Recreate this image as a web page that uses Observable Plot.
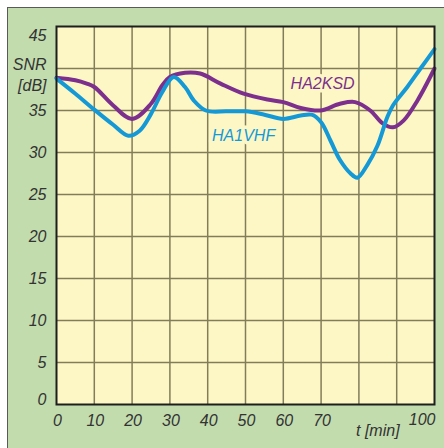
<!DOCTYPE html>
<html>
<head>
<meta charset="utf-8">
<script src="https://cdn.jsdelivr.net/npm/d3@7"></script>
<script src="https://cdn.jsdelivr.net/npm/@observablehq/plot@0.6"></script>
<style>
  html, body { margin: 0; padding: 0; background: #ffffff; }
  #wrap { position: relative; width: 444px; height: 448px; overflow: hidden; }
  #panel { position: absolute; left: 7px; top: 7px; right: 0; bottom: 0; background: #c2dcae;
           border-left: 1px solid #5a5a5a; border-top: 1px solid #5a5a5a; }
  #chart { position: absolute; left: 0; top: 0; }
</style>
</head>
<body>
<div id="wrap"><div id="panel"></div><div id="chart"></div></div>
<script>
// HA1VHF (blue)
const blueT = [0, 5, 10, 15, 19, 22, 25, 28, 31, 34, 36.3, 39.5, 45, 50, 55, 60, 64.6, 67.5, 70, 72.5, 75, 77.8, 79.6, 82.2, 84.9, 87.5, 89, 92.8, 96.3, 100];
const blueV = [38.8, 37.0, 35.1, 33.3, 32.0, 32.6, 34.6, 37.2, 39.0, 37.8, 36.2, 35.0, 34.9, 34.9, 34.5, 34.0, 34.4, 34.5, 33.6, 31.4, 29.1, 27.5, 27.0, 28.5, 30.8, 34.2, 35.6, 37.8, 40.0, 42.3];
// HA2KSD (purple)
const purpleT = [0, 5, 8, 10, 15, 20, 25, 28, 30, 34, 38, 43.4, 49.5, 55.8, 60, 64.6, 69.8, 75, 79, 83, 86.2, 89, 91.8, 95.5, 100];
const purpleV = [38.9, 38.6, 38.2, 37.8, 35.6, 34.0, 35.8, 38.0, 39.0, 39.5, 39.4, 38.2, 37.0, 36.3, 36.0, 35.3, 35.0, 35.8, 36.0, 35.0, 33.5, 33.0, 33.8, 36.2, 40.0];

const xTicks = [0, 10, 20, 30, 40, 50, 60, 70];
const xTickLast = [100];
const yTicks = [5, 10, 15, 20, 25, 30, 35];
const yTickTop = [45];
const yTickZero = [0];
const yUnitTick = [40];
const yUnitLabel = "SNR\n[dB]";
const xUnitLabel = "t [min]";
const seriesNames = ["HA1VHF", "HA2KSD"];
const labelPos = [{t: 49.5, v: 32.0}, {t: 70.4, v: 38.2}];

const blue = blueT.map((t, i) => ({t, v: blueV[i]}));
const purple = purpleT.map((t, i) => ({t, v: purpleV[i]}));

const cBlue = "#1499d6", cPurple = "#7c2f8c", cream = "#fdf7c6", gridC = "#837c5a", ink = "#333333";

const chart = Plot.plot({
  width: 444, height: 448,
  marginLeft: 56, marginRight: 10, marginTop: 26, marginBottom: 44,
  x: {domain: [0, 100], axis: null},
  y: {domain: [0, 45], axis: null},
  style: {background: "transparent", fontFamily: "'Liberation Sans', Arial, sans-serif", fontSize: "16px", fontStyle: "italic"},
  marks: [
    Plot.frame({fill: cream, stroke: null}),
    Plot.gridX(d3.range(10, 100, 10), {stroke: gridC, strokeOpacity: 1, strokeWidth: 1.5}),
    Plot.gridY(d3.range(5, 45, 5), {stroke: gridC, strokeOpacity: 1, strokeWidth: 1.5}),
    Plot.line(purple, {x: "t", y: "v", stroke: cPurple, strokeWidth: 4, curve: "catmull-rom"}),
    Plot.line(blue, {x: "t", y: "v", stroke: cBlue, strokeWidth: 4, curve: "catmull-rom"}),
    Plot.text([labelPos[0]], {x: "t", y: "v", text: () => seriesNames[0], fill: cBlue, stroke: cream, strokeWidth: 7, fontSize: 16}),
    Plot.text([labelPos[1]], {x: "t", y: "v", text: () => seriesNames[1], fill: cPurple, stroke: cream, strokeWidth: 7, fontSize: 16}),
    Plot.frame({stroke: "#1e1e1e", strokeWidth: 2}),
    // y tick labels
    Plot.text(yTicks, {x: 0, y: d => d, text: d => String(d), textAnchor: "end", dx: -10, fill: ink}),
    Plot.text(yTickTop, {x: 0, y: d => d, text: d => String(d), textAnchor: "end", dx: -10, dy: 9, fill: ink}),
    Plot.text(yTickZero, {x: 0, y: d => d, text: d => String(d), textAnchor: "end", dx: -10, dy: -5, fill: ink}),
    Plot.text(yUnitTick, {x: 0, y: d => d, text: () => yUnitLabel, textAnchor: "end", dx: -10, dy: 5, lineHeight: 1.3, fill: ink}),
    // x tick labels
    Plot.text(xTicks, {x: d => d, y: 0, text: d => String(d), dy: 16, dx: 1, fill: ink}),
    Plot.text(xTickLast, {x: d => d, y: 0, text: d => String(d), textAnchor: "end", dy: 15, dx: 1, fill: ink}),
    Plot.text([85], {x: d => d, y: 0, text: () => xUnitLabel, dy: 26, fill: ink})
  ]
});
document.getElementById("chart").appendChild(chart);
</script>
</body>
</html>
